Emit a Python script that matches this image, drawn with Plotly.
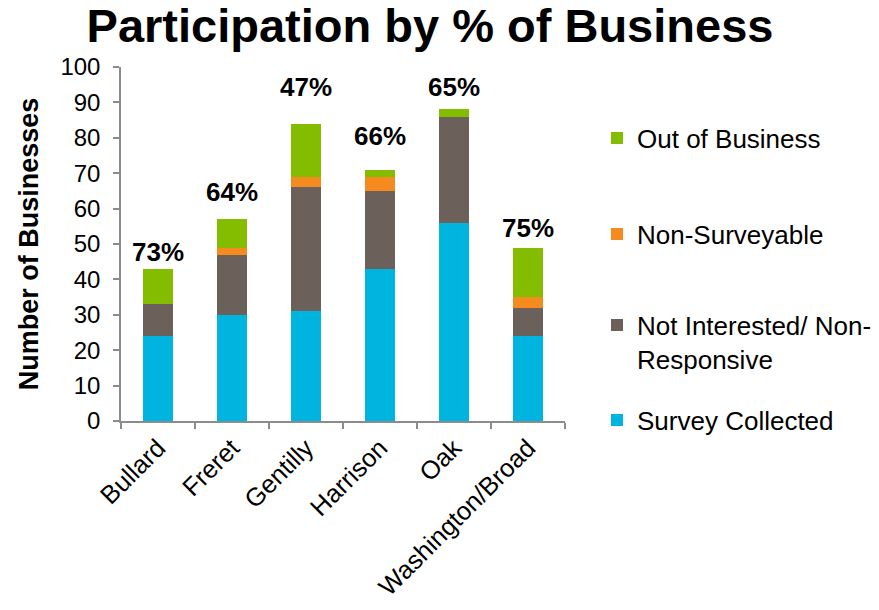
import plotly.graph_objects as go

# data
areas = ["Bullard", "Freret", "Gentilly", "Harrison", "Oak", "Washington/Broad"]
survey_collected = [24, 30, 31, 43, 56, 24]
not_interested = [9, 17, 35, 22, 30, 8]
non_surveyable = [0, 2, 3, 4, 0, 3]
out_of_business = [10, 8, 15, 2, 2, 14]
participation = ["73%", "64%", "47%", "66%", "65%", "75%"]

# label offsets above bar tops (px) - hand placed in original
label_shift = [0, 10, 20, 17, 5, 3]

FONT = "Arial, Liberation Sans, sans-serif"
AXIS = "#8C8C8C"

series = [
    ("Survey Collected", survey_collected, "#00B4E0", "legend4"),
    ("Not Interested/ Non-<br>Responsive", not_interested, "#6B615A", "legend3"),
    ("Non-Surveyable", non_surveyable, "#F58B1F", "legend2"),
    ("Out of Business", out_of_business, "#84BC00", "legend"),
]

fig = go.Figure()
for name, vals, color, lg in series:
    fig.add_trace(go.Bar(
        x=areas, y=vals, name=name, legend=lg,
        marker=dict(color=color, line=dict(width=0)),
    ))

totals = [a + b + c + d for a, b, c, d in
          zip(survey_collected, not_interested, non_surveyable, out_of_business)]
for cat, tot, txt, sh in zip(areas, totals, participation, label_shift):
    fig.add_annotation(
        x=cat, y=tot, text="<b>%s</b>" % txt, showarrow=False,
        yanchor="bottom", yshift=sh,
        font=dict(family=FONT, size=26, color="black"),
    )

W, H = 879, 610
PX0, PX1, PY0, PY1 = 121, 565, 67, 421   # plot area in pixels


def ly(py):
    return 1 - (py - PY0) / (PY1 - PY0)


legend_common = dict(
    x=1 + (597 - PX1) / (PX1 - PX0), xanchor="left", yanchor="middle",
    font=dict(family=FONT, size=26, color="black"),
    bgcolor="rgba(0,0,0,0)", itemwidth=30, valign="top",
)
fig.update_layout(
    width=W, height=H,
    barmode="stack", bargap=0.6,
    plot_bgcolor="white", paper_bgcolor="white",
    margin=dict(l=PX0, r=W - PX1, t=PY0, b=H - PY1, autoexpand=False),
    title=dict(
        text="<b>Participation by % of Business</b>",
        x=430 / W, xanchor="center", y=1 - 9 / H, yanchor="top",
        yref="container", xref="container",
        font=dict(family=FONT, size=47, color="black"),
    ),
    legend=dict(legend_common, y=ly(138)),
    legend2=dict(legend_common, y=ly(234)),
    legend3=dict(legend_common, y=ly(342)),
    legend4=dict(legend_common, y=ly(420)),
    showlegend=True,
)
fig.update_yaxes(
    range=[0, 100], dtick=10, showgrid=False, zeroline=False, automargin=False,
    showline=True, linecolor=AXIS, linewidth=1.5,
    ticks="outside", ticklen=6, tickcolor=AXIS, tickwidth=1.5, ticklabelstandoff=8,
    tickfont=dict(family=FONT, size=24, color="black"),
    title=dict(text="<b>Number of Businesses</b>", standoff=14,
               font=dict(family=FONT, size=27, color="black")),
)
fig.update_xaxes(
    showgrid=False, showline=True, linecolor=AXIS, linewidth=1.5, automargin=False,
    ticks="outside", ticklen=6, tickcolor=AXIS, tickwidth=1.5,
    tickson="boundaries", tickangle=-45,
    tickfont=dict(family=FONT, size=25.5, color="black"),
)

# drop the default 8px page margin so the figure fills the window
fig.write_html("out.html", config={"displayModeBar": False},
               post_script="document.body.style.margin='0';")
